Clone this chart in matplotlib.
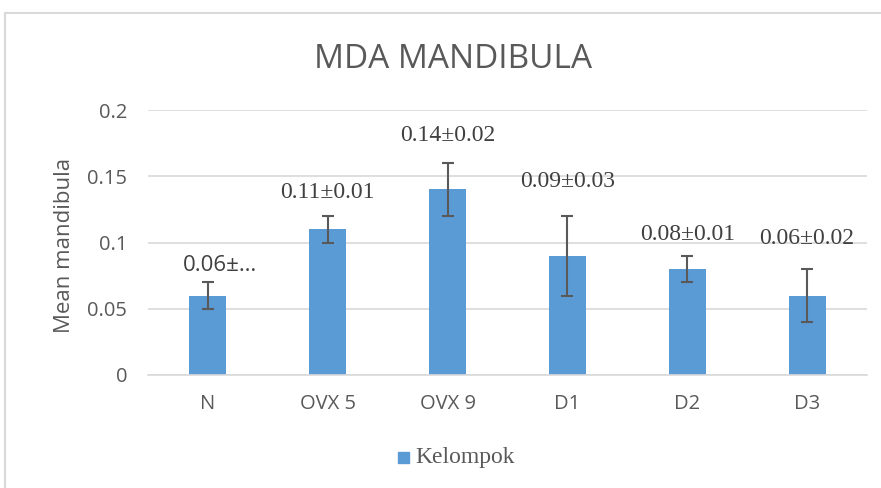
import matplotlib
matplotlib.use('Agg')
import matplotlib.pyplot as plt
from matplotlib.patches import Rectangle

# data
groups = ['N', 'OVX 5', 'OVX 9', 'D1', 'D2', 'D3']
means = [0.06, 0.11, 0.14, 0.09, 0.08, 0.06]
sds = [0.01, 0.01, 0.02, 0.03, 0.01, 0.02]
labels = ['0.06±…', '0.11±0.01', '0.14±0.02', '0.09±0.03', '0.08±0.01', '0.06±0.02']
label_y = [0.083, 0.138, 0.181, 0.146, 0.106, 0.103]
yticks = [0, 0.05, 0.1, 0.15, 0.2]
ytick_labels = ['0', '0.05', '0.1', '0.15', '0.2']

bar_color = '#5B9BD5'
grey = '#595959'
grid = '#D9D9D9'
sans = 'Open Sans'
serif = 'Liberation Serif'

fig = plt.figure(figsize=(8.81, 4.88), dpi=100)
ax = fig.add_axes([148 / 881, 113 / 488, 719 / 881, 265 / 488])

x = range(len(groups))
ax.bar(x, means, width=0.31, color=bar_color, zorder=2)
ax.errorbar(x, means, yerr=sds, fmt='none', ecolor=grey, elinewidth=1.5,
            capsize=4, capthick=1.5, zorder=3)

for i, (txt, y) in enumerate(zip(labels, label_y)):
    fam = sans if i == 0 else serif
    ax.text(i + (0.1 if i == 0 else 0), y, txt, ha='center', va='center',
            fontsize=16 if i == 0 else 17, family=fam, color='#404040')

ax.set_xlim(-0.5, len(groups) - 0.5)
ax.set_ylim(0, 0.2)
ax.set_yticks(yticks)
ax.set_yticklabels(ytick_labels, family=sans, fontsize=14.5, color=grey)
ax.set_xticks(list(x))
ax.set_xticklabels(groups, family=sans, fontsize=14.5, color=grey)
ax.tick_params(axis='both', length=0)
ax.tick_params(axis='y', pad=15)
ax.tick_params(axis='x', pad=14)
ax.yaxis.grid(True, color=grid, linewidth=1.2, zorder=0)
ax.set_axisbelow(True)
for s in ['top', 'right', 'left']:
    ax.spines[s].set_visible(False)
ax.spines['bottom'].set_color(grid)
ax.spines['bottom'].set_linewidth(1.2)

ax.set_ylabel('Mean mandibula', family=sans, fontsize=16, color=grey)
ax.yaxis.set_label_coords(-0.102, 0.49)

fig.text(453 / 881, 1 - 60 / 488, 'MDA MANDIBULA', ha='center', va='center',
         family=sans, fontsize=24, color=grey)

# legend
fig.patches.append(Rectangle((398 / 881, 1 - 463 / 488), 11 / 881, 11 / 488,
                             transform=fig.transFigure, color=bar_color))
fig.text(415 / 881, 1 - 458 / 488, 'Kelompok', ha='left', va='center',
         family=serif, fontsize=17, color=grey)

# chart border (only top and left edges visible in the crop)
fig.patches.append(Rectangle((5 / 881, -0.1), 1.2, 1 - 13 / 488 + 0.1,
                             transform=fig.transFigure, fill=False,
                             edgecolor=grid, linewidth=1.5))

fig.savefig('out.png', dpi=100)
